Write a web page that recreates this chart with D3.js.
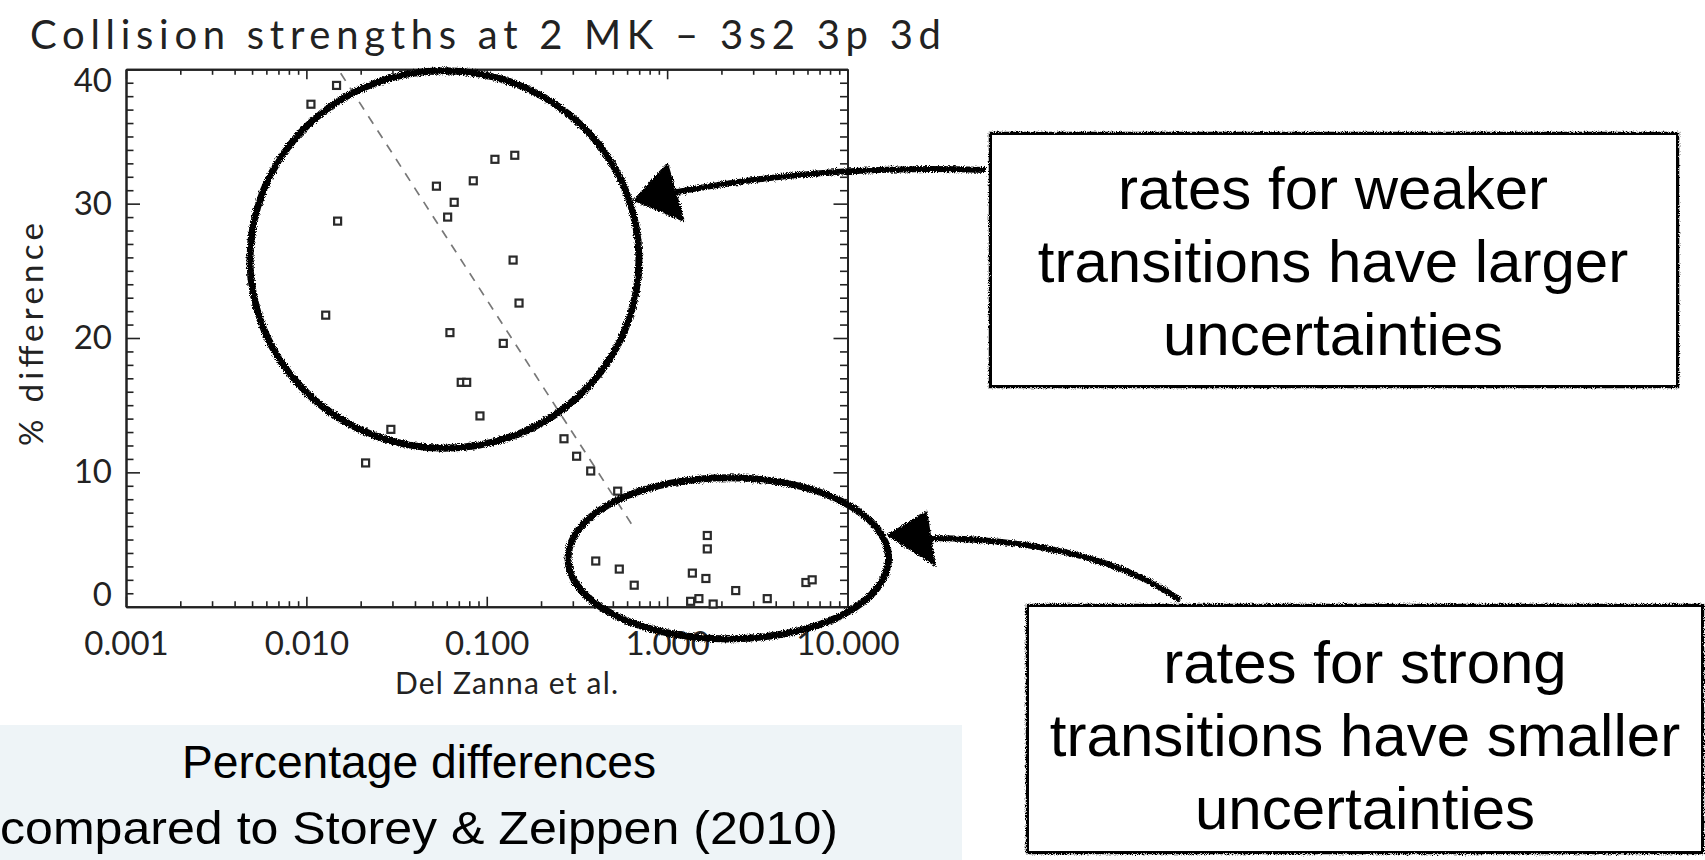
<!DOCTYPE html>
<html>
<head>
<meta charset="utf-8">
<script src="https://cdn.jsdelivr.net/npm/d3@7"></script>
<style>
  body { margin: 0; background: #fff; }
  svg { display: block; }
</style>
</head>
<body>
<svg width="1705" height="860"></svg>
<script>
// values
const xTickValues = [0.001, 0.01, 0.1, 1, 10]
const xTickLabels = ['0.001', '0.010', '0.100', '1.000', '10.000']
const yTickValues = [0, 10, 20, 30, 40]

// Del Zanna et al. collision strength vs % difference
const delZanna = [0.0147, 0.0106, 0.0149, 0.0526, 0.0842, 0.111, 0.143, 0.066, 0.0607,
  0.0128, 0.0625, 0.0722, 0.0774, 0.140, 0.151, 0.1235, 0.0917, 0.0294, 0.0213,
  0.268, 0.315, 0.377, 0.532, 0.402, 0.543, 0.657, 1.67, 1.67, 1.38, 1.64,
  1.35, 1.50, 1.80, 2.40, 3.59, 5.88, 6.37]
const pctDiff = [38.8, 37.4, 28.7, 31.3, 31.7, 33.3, 33.6, 30.1, 29.0,
  21.7, 20.4, 16.7, 16.7, 25.8, 22.6, 19.6, 14.2, 13.2, 10.7,
  12.5, 11.2, 10.1, 8.6, 3.4, 2.8, 1.6, 5.3, 4.3, 2.5, 2.1,
  0.4, 0.6, 0.2, 1.2, 0.6, 1.8, 2.0]

// dashed trend line end points
const fitX = [0.0155, 0.649]
const fitY = [39.7, 5.95]

const titleText = 'Collision strengths at 2 MK \u2013 3s2 3p 3d'
const xTitle = 'Del Zanna et al.'
const yTitle = '% difference'
const captionLines = ['Percentage differences', 'compared to Storey & Zeippen (2010)']
const weakLines = ['rates for weaker', 'transitions have larger', 'uncertainties']
const strongLines = ['rates for strong', 'transitions have smaller', 'uncertainties']

// circled regions, in data units
const weakRegion = {x: [0.00487, 0.698], y: [11.8, 39.9]}
const strongRegion = {x: [0.282, 16.9], y: [-2.4, 9.6]}

const svg = d3.select('svg')
const plot = {left: 126, right: 847.5, top: 69.3, bottom: 606.7}
const idlFont = 'Lato, "DejaVu Sans", sans-serif'
const ink = '#222'

const x = d3.scaleLog().domain([0.001, 10]).range([plot.left, plot.right])
const y = d3.scaleLinear().domain([0, 40]).range([plot.bottom, plot.top])

// sketchy pen filter for the hand drawn annotations
const defs = svg.append('defs')
const rough = defs.append('filter').attr('id', 'rough')
  .attr('x', '-10%').attr('y', '-10%').attr('width', '120%').attr('height', '120%')
rough.append('feTurbulence').attr('type', 'fractalNoise').attr('baseFrequency', 1.1)
  .attr('numOctaves', 2).attr('seed', 4).attr('result', 'noise')
rough.append('feDisplacementMap').attr('in', 'SourceGraphic').attr('in2', 'noise')
  .attr('scale', 5).attr('xChannelSelector', 'R').attr('yChannelSelector', 'G')

drawCaption()
drawAxes()
drawPoints()
drawAnnotations()

function drawCaption() {
    svg.append('rect')
        .attr('x', 0).attr('y', 725).attr('width', 962).attr('height', 135)
        .attr('fill', '#eef4f7')
    svg.selectAll('.caption')
        .data(captionLines)
        .enter()
        .append('text')
        .attr('class', 'caption')
        .attr('x', 419)
        .attr('y', (d, i) => 778 + i * 66)
        .attr('text-anchor', 'middle')
        .attr('font-family', '"Liberation Sans", Arial, sans-serif')
        .attr('font-size', 46)
        .attr('fill', '#000')
        .attr('textLength', (d, i) => i ? 838 : 474)
        .attr('lengthAdjust', 'spacingAndGlyphs')
        .text(d => d)
}

function drawAxes() {
    const minorX = x.ticks().filter(v => !xTickValues.includes(v))
    const minorY = d3.range(0, 41).filter(v => !yTickValues.includes(v))

    const styleAxis = g => {
        g.select('.domain').attr('stroke', ink).attr('stroke-width', 2)
        g.selectAll('.tick line').attr('stroke', ink).attr('stroke-width', 1.6)
        g.selectAll('text').attr('font-family', idlFont).attr('font-size', 33).attr('fill', ink)
    }

    // major ticks with labels
    svg.append('g')
        .attr('transform', `translate(0,${plot.bottom})`)
        .call(d3.axisBottom(x).tickValues(xTickValues)
            .tickFormat((d, i) => xTickLabels[i]).tickSize(-10).tickSizeOuter(0).tickPadding(25))
        .call(styleAxis)
    svg.append('g')
        .attr('transform', `translate(${plot.left},0)`)
        .call(d3.axisLeft(y).tickValues(yTickValues).tickSize(-14).tickSizeOuter(0).tickPadding(14))
        .call(styleAxis)
        .selectAll('text')
        .attr('y', d => Math.min(Math.max(y(d), plot.top + 12), plot.bottom - 12) - y(d))
    svg.append('g')
        .attr('transform', `translate(0,${plot.top})`)
        .call(d3.axisTop(x).tickValues(xTickValues).tickFormat('').tickSize(-10).tickSizeOuter(0))
        .call(styleAxis)
    svg.append('g')
        .attr('transform', `translate(${plot.right},0)`)
        .call(d3.axisRight(y).tickValues(yTickValues).tickFormat('').tickSize(-14).tickSizeOuter(0))
        .call(styleAxis)

    // minor ticks on all four sides
    const minor = [
        [d3.axisBottom(x).tickValues(minorX).tickSize(-5.5), `translate(0,${plot.bottom})`],
        [d3.axisTop(x).tickValues(minorX).tickSize(-5.5), `translate(0,${plot.top})`],
        [d3.axisLeft(y).tickValues(minorY).tickSize(-7.5), `translate(${plot.left},0)`],
        [d3.axisRight(y).tickValues(minorY).tickSize(-7.5), `translate(${plot.right},0)`]
    ]
    minor.forEach(([axis, tr]) => {
        svg.append('g')
            .attr('transform', tr)
            .call(axis.tickFormat('').tickSizeOuter(0))
            .call(styleAxis)
    })

    // titles
    svg.append('text')
        .attr('x', 30).attr('y', 49)
        .attr('textLength', 911).attr('lengthAdjust', 'spacing')
        .attr('font-family', idlFont).attr('font-size', 40).attr('fill', ink)
        .text(titleText)
    svg.append('text')
        .attr('x', 395).attr('y', 694)
        .attr('textLength', 223).attr('lengthAdjust', 'spacing')
        .attr('font-family', idlFont).attr('font-size', 30).attr('fill', ink)
        .text(xTitle)
    svg.append('text')
        .attr('transform', 'translate(43,446) rotate(-90)')
        .attr('textLength', 223).attr('lengthAdjust', 'spacing')
        .attr('font-family', idlFont).attr('font-size', 33).attr('fill', ink)
        .text(yTitle)
}

function drawPoints() {
    const line = d3.line().x(d => x(d[0])).y(d => y(d[1]))
    svg.append('path')
        .attr('d', line(d3.zip(fitX, fitY)))
        .attr('fill', 'none')
        .attr('stroke', '#777')
        .attr('stroke-width', 1.7)
        .attr('stroke-dasharray', '9,8')

    const s = 7
    svg.selectAll('.pt')
        .data(d3.zip(delZanna, pctDiff))
        .enter()
        .append('rect')
        .attr('class', 'pt')
        .attr('x', d => x(d[0]) - s / 2)
        .attr('y', d => y(d[1]) - s / 2)
        .attr('width', s)
        .attr('height', s)
        .attr('fill', '#fff')
        .attr('stroke', '#2a2a2a')
        .attr('stroke-width', 2.2)
}

function drawAnnotations() {
    const pen = svg.append('g').attr('filter', 'url(#rough)')

    // circled regions
    ;[weakRegion, strongRegion].forEach(r => {
        const x0 = x(r.x[0]), x1 = x(r.x[1])
        const y0 = y(r.y[1]), y1 = y(r.y[0])
        pen.append('ellipse')
            .attr('cx', (x0 + x1) / 2).attr('cy', (y0 + y1) / 2)
            .attr('rx', (x1 - x0) / 2).attr('ry', (y1 - y0) / 2)
            .attr('fill', 'none').attr('stroke', '#000').attr('stroke-width', 7)
    })

    // arrows from the boxes to the regions
    pen.append('path')
        .attr('d', 'M986,170 Q820,164 672,193')
        .attr('fill', 'none').attr('stroke', '#000').attr('stroke-width', 6)
    pen.append('path')
        .attr('d', 'M635,200 L667,165 L683,220 Z')
        .attr('fill', '#000').attr('stroke', '#000').attr('stroke-width', 3)
    pen.append('path')
        .attr('d', 'M1180,600 Q1095,540 930,538')
        .attr('fill', 'none').attr('stroke', '#000').attr('stroke-width', 6)
    pen.append('path')
        .attr('d', 'M889,535 L926,513 L934,564 Z')
        .attr('fill', '#000').attr('stroke', '#000').attr('stroke-width', 3)

    // text boxes
    const boxes = [
        {x: 992, y: 135, w: 684, h: 250, cx: 1333, base: 209, lines: weakLines},
        {x: 1029, y: 607, w: 672, h: 244, cx: 1365, base: 683, lines: strongLines}
    ]
    boxes.forEach(b => {
        svg.append('rect')
            .attr('x', b.x).attr('y', b.y).attr('width', b.w).attr('height', b.h)
            .attr('fill', '#fff')
        pen.append('rect')
            .attr('x', b.x).attr('y', b.y).attr('width', b.w).attr('height', b.h)
            .attr('fill', 'none').attr('stroke', '#000').attr('stroke-width', 6.5)
        svg.selectAll(null)
            .data(b.lines)
            .enter()
            .append('text')
            .attr('x', b.cx)
            .attr('y', (d, i) => b.base + i * 73)
            .attr('text-anchor', 'middle')
            .attr('font-family', '"Liberation Sans", Arial, sans-serif')
            .attr('font-size', 60)
            .attr('fill', '#000')
            .text(d => d)
    })
}
</script>
</body>
</html>
